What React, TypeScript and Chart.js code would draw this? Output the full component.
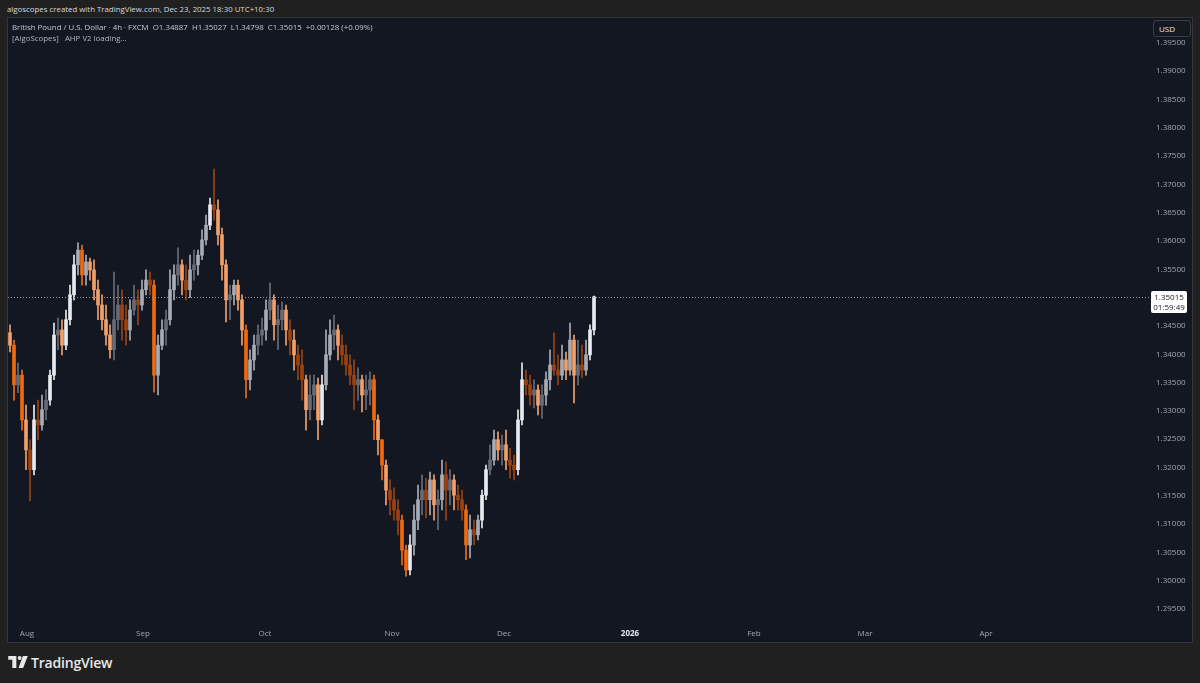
import React, { useEffect, useRef } from "react";
import { Chart, registerables } from "chart.js";

Chart.register(...registerables);

// GBP/USD 4h candles (aggregated), Aug -> Dec 23 2025
const opens = [
  1.3438, 1.3416, 1.3346, 1.3363, 1.3284, 1.3231, 1.3196, 1.3284, 1.3275, 1.3302,
  1.3319, 1.3363, 1.3434, 1.3443, 1.3416, 1.3461, 1.3505, 1.3558, 1.3584, 1.3540,
  1.3563, 1.3549, 1.3514, 1.3487, 1.3461, 1.3434, 1.3408, 1.3461, 1.3487, 1.3461,
  1.3443, 1.3478, 1.3496, 1.3487, 1.3514, 1.3531, 1.3522, 1.3363, 1.3416, 1.3443,
  1.3461, 1.3514, 1.3540, 1.3558, 1.3531, 1.3514, 1.3549, 1.3558, 1.3575, 1.3602,
  1.3628, 1.3664, 1.3655, 1.3611, 1.3558, 1.3496, 1.3505, 1.3522, 1.3496, 1.3443,
  1.3355, 1.3390, 1.3416, 1.3434, 1.3443, 1.3478, 1.3496, 1.3452, 1.3461, 1.3478,
  1.3443, 1.3425, 1.3399, 1.3381, 1.3355, 1.3302, 1.3328, 1.3346, 1.3284, 1.3346,
  1.3399, 1.3434, 1.3443, 1.3416, 1.3399, 1.3381, 1.3363, 1.3346, 1.3355, 1.3328,
  1.3337, 1.3355, 1.3284, 1.3249, 1.3204, 1.3160, 1.3143, 1.3125, 1.3107, 1.3054,
  1.3019, 1.3063, 1.3107, 1.3143, 1.3160, 1.3143, 1.3178, 1.3134, 1.3143, 1.3187,
  1.3160, 1.3178, 1.3151, 1.3143, 1.3125, 1.3063, 1.3090, 1.3081, 1.3107, 1.3151,
  1.3196, 1.3213, 1.3249, 1.3231, 1.3240, 1.3213, 1.3204, 1.3196, 1.3284, 1.3355,
  1.3346, 1.3328, 1.3337, 1.3310, 1.3328, 1.3355, 1.3381, 1.3372, 1.3363, 1.3390,
  1.3372, 1.3425, 1.3363, 1.3381, 1.3372, 1.3399, 1.3443,
];

const highs = [
  1.3452, 1.3425, 1.3385, 1.3372, 1.3310, 1.3249, 1.3310, 1.3319, 1.3328, 1.3337,
  1.3372, 1.3455, 1.3464, 1.3461, 1.3478, 1.3522, 1.3575, 1.3597, 1.3593, 1.3575,
  1.3570, 1.3567, 1.3531, 1.3505, 1.3487, 1.3452, 1.3545, 1.3522, 1.3514, 1.3487,
  1.3496, 1.3522, 1.3514, 1.3531, 1.3549, 1.3545, 1.3531, 1.3434, 1.3461, 1.3478,
  1.3549, 1.3558, 1.3588, 1.3567, 1.3558, 1.3575, 1.3584, 1.3584, 1.3620, 1.3646,
  1.3676, 1.3727, 1.3673, 1.3623, 1.3567, 1.3522, 1.3531, 1.3531, 1.3505, 1.3452,
  1.3408, 1.3434, 1.3452, 1.3464, 1.3496, 1.3526, 1.3505, 1.3487, 1.3492, 1.3487,
  1.3461, 1.3443, 1.3416, 1.3408, 1.3363, 1.3363, 1.3363, 1.3358, 1.3363, 1.3443,
  1.3461, 1.3469, 1.3452, 1.3434, 1.3416, 1.3399, 1.3390, 1.3376, 1.3363, 1.3363,
  1.3369, 1.3363, 1.3293, 1.3249, 1.3213, 1.3178, 1.3164, 1.3143, 1.3116, 1.3063,
  1.3081, 1.3134, 1.3169, 1.3187, 1.3181, 1.3192, 1.3187, 1.3160, 1.3213, 1.3210,
  1.3196, 1.3187, 1.3169, 1.3160, 1.3134, 1.3116, 1.3107, 1.3116, 1.3160, 1.3204,
  1.3240, 1.3266, 1.3263, 1.3257, 1.3266, 1.3234, 1.3222, 1.3302, 1.3385, 1.3372,
  1.3363, 1.3355, 1.3346, 1.3346, 1.3369, 1.3408, 1.3438, 1.3399, 1.3416, 1.3404,
  1.3455, 1.3434, 1.3425, 1.3416, 1.3425, 1.3452, 1.35027,
];

const lows = [
  1.3404, 1.3319, 1.3332, 1.3266, 1.3196, 1.3141, 1.3187, 1.3249, 1.3266, 1.3284,
  1.3310, 1.3355, 1.3408, 1.3399, 1.3408, 1.3452, 1.3496, 1.3540, 1.3522, 1.3522,
  1.3531, 1.3496, 1.3461, 1.3443, 1.3416, 1.3393, 1.3390, 1.3443, 1.3425, 1.3416,
  1.3425, 1.3469, 1.3452, 1.3478, 1.3505, 1.3505, 1.3333, 1.3328, 1.3408, 1.3416,
  1.3452, 1.3496, 1.3522, 1.3505, 1.3496, 1.3500, 1.3531, 1.3540, 1.3567, 1.3593,
  1.3620, 1.3637, 1.3593, 1.3531, 1.3457, 1.3461, 1.3487, 1.3478, 1.3416, 1.3323,
  1.3337, 1.3372, 1.3399, 1.3416, 1.3425, 1.3461, 1.3425, 1.3408, 1.3443, 1.3416,
  1.3399, 1.3372, 1.3355, 1.3319, 1.3266, 1.3284, 1.3302, 1.3249, 1.3275, 1.3337,
  1.3390, 1.3408, 1.3390, 1.3381, 1.3363, 1.3346, 1.3302, 1.3319, 1.3298, 1.3302,
  1.3310, 1.3249, 1.3222, 1.3178, 1.3134, 1.3116, 1.3107, 1.3081, 1.3028, 1.3008,
  1.3010, 1.3045, 1.3090, 1.3116, 1.3111, 1.3116, 1.3107, 1.3090, 1.3125, 1.3107,
  1.3134, 1.3125, 1.3125, 1.3107, 1.3037, 1.3040, 1.3063, 1.3072, 1.3093, 1.3143,
  1.3187, 1.3204, 1.3213, 1.3204, 1.3196, 1.3181, 1.3178, 1.3187, 1.3275, 1.3328,
  1.3310, 1.3305, 1.3293, 1.3287, 1.3310, 1.3337, 1.3363, 1.3346, 1.3355, 1.3355,
  1.3363, 1.3314, 1.3346, 1.3358, 1.3363, 1.3390, 1.3434,
];

const closes = [
  1.3416, 1.3346, 1.3363, 1.3284, 1.3231, 1.3196, 1.3284, 1.3275, 1.3302, 1.3319,
  1.3363, 1.3434, 1.3443, 1.3416, 1.3461, 1.3505, 1.3558, 1.3584, 1.3540, 1.3563,
  1.3549, 1.3514, 1.3487, 1.3461, 1.3434, 1.3408, 1.3461, 1.3487, 1.3461, 1.3443,
  1.3478, 1.3496, 1.3487, 1.3514, 1.3531, 1.3522, 1.3363, 1.3416, 1.3443, 1.3461,
  1.3514, 1.3540, 1.3558, 1.3531, 1.3514, 1.3549, 1.3558, 1.3575, 1.3602, 1.3628,
  1.3664, 1.3655, 1.3611, 1.3558, 1.3496, 1.3505, 1.3522, 1.3496, 1.3443, 1.3355,
  1.3390, 1.3416, 1.3434, 1.3443, 1.3478, 1.3496, 1.3452, 1.3461, 1.3478, 1.3443,
  1.3425, 1.3399, 1.3381, 1.3355, 1.3302, 1.3328, 1.3346, 1.3284, 1.3346, 1.3399,
  1.3434, 1.3443, 1.3416, 1.3399, 1.3381, 1.3363, 1.3346, 1.3355, 1.3328, 1.3337,
  1.3355, 1.3284, 1.3249, 1.3204, 1.3160, 1.3143, 1.3125, 1.3107, 1.3054, 1.3019,
  1.3063, 1.3107, 1.3143, 1.3160, 1.3143, 1.3178, 1.3134, 1.3143, 1.3187, 1.3160,
  1.3178, 1.3151, 1.3143, 1.3125, 1.3063, 1.3090, 1.3081, 1.3107, 1.3151, 1.3196,
  1.3213, 1.3249, 1.3231, 1.3240, 1.3213, 1.3204, 1.3196, 1.3284, 1.3355, 1.3346,
  1.3328, 1.3337, 1.3310, 1.3328, 1.3355, 1.3381, 1.3372, 1.3363, 1.3390, 1.3372,
  1.3425, 1.3363, 1.3381, 1.3372, 1.3399, 1.3443, 1.35015,
];

const monthTickPositions = [4.25, 33.25, 63.75, 95.5, 123.5, 155, 186, 213.75, 244];
const monthTickLabels = ["Aug", "Sep", "Oct", "Nov", "Dec", "2026", "Feb", "Mar", "Apr"];
const priceTicks = [
  1.295, 1.3, 1.305, 1.31, 1.315, 1.32, 1.325, 1.33, 1.335, 1.34, 1.345,
  1.35, 1.355, 1.36, 1.365, 1.37, 1.375, 1.38, 1.385, 1.39, 1.395,
];
const countdownLabel = "01:59:49";

const FONT = '"Open Sans", "Noto Sans", sans-serif';

function candleColor(i: number): string {
  const up = closes[i] >= opens[i];
  const range = highs[i] - lows[i];
  const ratio = range > 0 ? Math.abs(closes[i] - opens[i]) / range : 0;
  if (up) return ratio > 0.6 ? "#e8eaf0" : ratio > 0.35 ? "#a9acb5" : "#686c77";
  return ratio > 0.6 ? "#f06a12" : ratio > 0.35 ? "#f3a06b" : "#9a4312";
}

const lastPricePlugin = {
  id: "lastPrice",
  afterDatasetsDraw(chart: any) {
    const { ctx, chartArea, scales } = chart;
    const last = closes[closes.length - 1];
    const y = Math.round(scales.y.getPixelForValue(last)) + 0.5;
    ctx.save();
    ctx.strokeStyle = "#9598a1";
    ctx.lineWidth = 1;
    ctx.setLineDash([1, 2]);
    ctx.beginPath();
    ctx.moveTo(chartArea.left, y);
    ctx.lineTo(chartArea.right + 8, y);
    ctx.stroke();
    ctx.setLineDash([]);
    const bx = chartArea.right + 8;
    const by = y - 6.5;
    const bw = 36;
    const bh = 22;
    ctx.fillStyle = "#ffffff";
    ctx.beginPath();
    ctx.roundRect(bx, by, bw, bh, 2);
    ctx.fill();
    ctx.fillStyle = "#131722";
    ctx.font = `8px ${FONT}`;
    ctx.textAlign = "center";
    ctx.textBaseline = "middle";
    ctx.fillText(last.toFixed(5), bx + bw / 2, y);
    ctx.fillText(countdownLabel, bx + bw / 2, y + 10);
    ctx.restore();
  },
};

function CandleChart() {
  const ref = useRef<HTMLCanvasElement>(null);
  useEffect(() => {
    if (!ref.current) return;
    const colors = closes.map((_, i) => candleColor(i));
    const wickData = lows.map((l, i) => ({ x: i, y: [l, highs[i]] }));
    const bodyData = opens.map((o, i) => ({ x: i, y: [o, closes[i]] }));
    const chart = new Chart(ref.current, {
      type: "bar",
      data: {
        datasets: [
          {
            data: wickData as any,
            backgroundColor: colors,
            barThickness: 1,
            grouped: false,
            borderWidth: 0,
          },
          {
            data: bodyData as any,
            backgroundColor: colors,
            barThickness: 3,
            grouped: false,
            borderWidth: 0,
            minBarLength: 1,
          },
        ],
      },
      options: {
        animation: false,
        responsive: false,
        devicePixelRatio: 1,
        layout: { padding: 0 },
        plugins: { legend: { display: false }, tooltip: { enabled: false } },
        scales: {
          x: {
            type: "linear",
            min: -0.5,
            max: 283.25,
            offset: false,
            grid: { display: false, drawTicks: false },
            border: { display: false },
            afterBuildTicks: (s: any) => {
              s.ticks = monthTickPositions.map((v) => ({ value: v }));
            },
            afterFit: (s: any) => {
              s.height = 20;
              s.paddingLeft = 0;
              s.paddingRight = 0;
            },
            ticks: {
              autoSkip: false,
              maxRotation: 0,
              padding: 7,
              callback: (_v: any, i: number) => monthTickLabels[i],
              color: (c: any) => (c.tick && c.tick.label === "2026" ? "#e6e8ee" : "#a3a6af"),
              font: (c: any) => ({
                family: FONT,
                size: 8,
                weight: c.tick && c.tick.label === "2026" ? "bold" : "normal",
              }),
            },
          },
          y: {
            position: "right",
            min: 1.2927,
            max: 1.3994,
            grid: { display: false, drawTicks: false },
            border: { display: false },
            afterBuildTicks: (s: any) => {
              s.ticks = priceTicks.map((v) => ({ value: v }));
            },
            afterFit: (s: any) => {
              s.width = 49;
              s.paddingTop = 0;
              s.paddingBottom = 0;
            },
            ticks: {
              padding: 13,
              color: "#a3a6af",
              font: { family: FONT, size: 8 },
              callback: (v: any) => Number(v).toFixed(5),
            },
          },
        },
      } as any,
      plugins: [lastPricePlugin],
    });
    return () => chart.destroy();
  }, []);
  return <canvas ref={ref} width={1184} height={624} style={{ display: "block", width: 1184, height: 624 }} />;
}

export default function App() {
  const text: React.CSSProperties = { position: "absolute", whiteSpace: "pre", fontFamily: FONT };
  return (
    <div style={{ position: "fixed", left: 0, top: 0, width: 1200, height: 683, background: "#202020", overflow: "hidden" }}>
      <div style={{ ...text, left: 7, top: 4, fontSize: 7.85, lineHeight: "11px", color: "#d6d8de" }}>
        algoscopes created with TradingView.com, Dec 23, 2025 18:30 UTC+10:30
      </div>
      <div
        style={{
          position: "absolute",
          left: 7,
          top: 17,
          width: 1186,
          height: 626,
          boxSizing: "border-box",
          border: "1px solid #33353c",
          background: "#131722",
        }}
      >
        <CandleChart />
        <div style={{ ...text, left: 4, top: 4, fontSize: 7.85, lineHeight: "11px", color: "#c3c6ce" }}>
          {"British Pound / U.S. Dollar · 4h · FXCM  O1.34887  H1.35027  L1.34798  C1.35015  +0.00128 (+0.09%)"}
        </div>
        <div style={{ ...text, left: 4, top: 15, fontSize: 7.85, lineHeight: "11px", color: "#b2b5be" }}>
          {"[AlgoScopes]   AHP V2 loading..."}
        </div>
        <div
          style={{
            ...text,
            left: 1145,
            top: 2,
            width: 38,
            height: 17,
            boxSizing: "border-box",
            border: "1px solid #3a3d47",
            borderRadius: 3,
            background: "#151821",
            color: "#e6e8ee",
            fontSize: 8,
            lineHeight: "15px",
            paddingLeft: 5,
          }}
        >
          USD
        </div>
      </div>
      <svg style={{ position: "absolute", left: 8, top: 656 }} width={20} height={13} viewBox="0 0 36 24">
        <path d="M0 0 H15 V22 H7.5 V7 H0 Z" fill="#e8e8e8" />
        <circle cx={21} cy={3.6} r={3.6} fill="#e8e8e8" />
        <path d="M27 0 H36 L27.5 22 H19 Z" fill="#e8e8e8" />
      </svg>
      <div style={{ ...text, left: 31, top: 653, fontSize: 14, fontWeight: 600, lineHeight: "20px", color: "#e8e8e8", letterSpacing: -0.2 }}>
        TradingView
      </div>
    </div>
  );
}
